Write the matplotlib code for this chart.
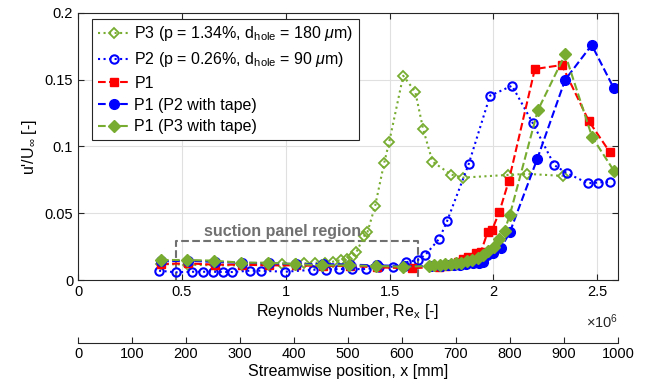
import matplotlib.pyplot as plt

plt.rcParams['font.family'] = ['Liberation Sans', 'DejaVu Sans']
plt.rcParams['mathtext.fontset'] = 'custom'
plt.rcParams['mathtext.rm'] = 'Liberation Sans'
plt.rcParams['mathtext.it'] = 'Liberation Sans:italic'

green = '#77AC30'

# P3 (open diamonds, dotted)
re_p3 = [0.40, 0.53, 0.66, 0.79, 0.92, 0.98, 1.05, 1.09, 1.14, 1.19, 1.226, 1.266, 1.295,
         1.319, 1.341, 1.378, 1.394, 1.431, 1.474, 1.499, 1.566, 1.624, 1.662, 1.707,
         1.796, 1.853, 2.069, 2.161, 2.335]
u_p3 = [0.012, 0.0115, 0.011, 0.011, 0.0115, 0.012, 0.012, 0.0125, 0.013, 0.013, 0.0137,
        0.015, 0.016, 0.0175, 0.021, 0.033, 0.036, 0.0557, 0.0875, 0.1037, 0.153, 0.141,
        0.113, 0.0887, 0.079, 0.0767, 0.0787, 0.0795, 0.078]

# P2 (open circles, dotted)
re_p2 = [0.39, 0.471, 0.551, 0.602, 0.65, 0.698, 0.743, 0.827, 0.88, 0.995, 1.132, 1.193,
         1.255, 1.319, 1.386, 1.45, 1.515, 1.579, 1.636, 1.672, 1.74, 1.777, 1.881, 1.984,
         2.09, 2.19, 2.294, 2.355, 2.455, 2.503, 2.563]
u_p2 = [0.007, 0.0058, 0.0062, 0.0062, 0.0062, 0.006, 0.006, 0.007, 0.007, 0.0062, 0.0077,
        0.0078, 0.0082, 0.0082, 0.0082, 0.0095, 0.010, 0.0133, 0.015, 0.0187, 0.031, 0.044,
        0.0867, 0.138, 0.1455, 0.1175, 0.086, 0.080, 0.0725, 0.073, 0.0737]

# P1 (filled squares, dashed)
re_p1 = [0.40, 0.53, 0.66, 0.79, 0.92, 1.05, 1.18, 1.31, 1.44, 1.61, 1.74, 1.77, 1.80,
         1.83, 1.853, 1.88, 1.917, 1.94, 1.973, 1.994, 2.029, 2.074, 2.20, 2.33, 2.46, 2.56]
u_p1 = [0.012, 0.0125, 0.0115, 0.0115, 0.011, 0.011, 0.0105, 0.0105, 0.0095, 0.0088, 0.010,
        0.0105, 0.011, 0.0135, 0.016, 0.0175, 0.020, 0.021, 0.036, 0.0375, 0.051, 0.074,
        0.158, 0.161, 0.119, 0.096]

# P1 (P2 with tape) (filled circles, dashed)
re_p1p2 = [0.40, 0.53, 0.66, 0.79, 0.92, 1.05, 1.18, 1.31, 1.44, 1.57, 1.70, 1.75, 1.78,
           1.81, 1.84, 1.87, 1.90, 1.93, 1.95, 1.97, 2.00, 2.037, 2.08, 2.211, 2.346,
           2.474, 2.579]
u_p1p2 = [0.014, 0.0145, 0.0135, 0.013, 0.0125, 0.012, 0.012, 0.0115, 0.011, 0.0105,
          0.0105, 0.0105, 0.011, 0.011, 0.0115, 0.012, 0.0125, 0.013, 0.0137, 0.0187,
          0.020, 0.024, 0.036, 0.0905, 0.150, 0.176, 0.144]

# P1 (P3 with tape) (filled diamonds, dashed)
re_p1p3 = [0.399, 0.527, 0.655, 0.783, 0.915, 1.045, 1.177, 1.306, 1.437, 1.566, 1.69,
           1.716, 1.742, 1.768, 1.794, 1.82, 1.846, 1.872, 1.898, 1.924, 1.95, 1.976,
           2.002, 2.028, 2.054, 2.08, 2.214, 2.346, 2.476, 2.58]
u_p1p3 = [0.015, 0.015, 0.0145, 0.013, 0.013, 0.012, 0.011, 0.011, 0.0105, 0.010, 0.0105,
          0.011, 0.0115, 0.012, 0.012, 0.0125, 0.013, 0.014, 0.015, 0.0165, 0.019, 0.0215,
          0.025, 0.031, 0.037, 0.049, 0.127, 0.169, 0.107, 0.082]

# suction panel region (Re x 1e6, u)
panel_re = [0.471, 1.638]
panel_top = 0.0295

mm_ticks = list(range(0, 1001, 100))
re_per_mm = 2600.0

fig = plt.figure(figsize=(6.45, 3.81), dpi=100)
ax = fig.add_axes([0.121, 0.265, 0.837, 0.701])

ax.plot([r * 1e6 for r in re_p3], u_p3, ':', color=green, lw=1.5, marker='D', ms=5,
        mfc='none', mec=green, mew=1.3,
        label=r'P3 (p = 1.34%, d$_{\mathregular{hole}}$ = 180 $\mu$m)')
ax.plot([r * 1e6 for r in re_p2], u_p2, ':', color='b', lw=1.5, marker='o', ms=6,
        mfc='none', mec='b', mew=1.5,
        label=r'P2 (p = 0.26%, d$_{\mathregular{hole}}$ = 90 $\mu$m)')
ax.plot([r * 1e6 for r in re_p1], u_p1, '--', color='r', lw=1.5, marker='s', ms=6,
        mfc='r', mec='r', label='P1')
ax.plot([r * 1e6 for r in re_p1p2], u_p1p2, '--', color='b', lw=1.5, marker='o', ms=7,
        mfc='b', mec='b', label='P1 (P2 with tape)')
ax.plot([r * 1e6 for r in re_p1p3], u_p1p3, '--', color=green, lw=1.5, marker='D', ms=6.5,
        mfc=green, mec=green, label='P1 (P3 with tape)')

# suction panel box
bx = [panel_re[0] * 1e6, panel_re[0] * 1e6, panel_re[1] * 1e6, panel_re[1] * 1e6]
by = [0, panel_top, panel_top, 0]
ax.plot(bx, by, '--', color='#707070', lw=1.5, zorder=1)
ax.text(sum(panel_re) / 2 * 1e6 - 0.07e6, panel_top + 0.0015, 'suction panel region',
        ha='center', va='bottom', color='#707070', fontsize=11.5, fontweight='bold')

ax.set_xlim(0, 2.6e6)
ax.set_ylim(0, 0.2)
ax.set_xticks([0, 0.5e6, 1e6, 1.5e6, 2e6, 2.5e6])
ax.set_xticklabels(['0', '0.5', '1', '1.5', '2', '2.5'])
ax.set_yticks([0, 0.05, 0.1, 0.15, 0.2])
ax.set_yticklabels(['0', '0.05', '0.1', '0.15', '0.2'])
ax.tick_params(direction='in', top=True, right=True, labelsize=10.5, length=4, color='#262626')
ax.grid(True, color='#e0e0e0', lw=0.8)
ax.set_axisbelow(True)
for s in ax.spines.values():
    s.set_color('#262626')
ax.set_xlabel(r'Reynolds Number, Re$_{\mathregular{x}}$ [-]', fontsize=11.5, labelpad=2)
ax.set_ylabel(r"u'/U$_\infty$ [-]", fontsize=11.5, labelpad=4)
ax.text(1.0, -0.155, r'$\times$10$^6$', transform=ax.transAxes, ha='right', va='center',
        fontsize=10.5, color='#262626')

leg = ax.legend(loc='upper left', fontsize=11.5, handlelength=2.0, borderpad=0.35,
                labelspacing=0.42, handletextpad=0.3, fancybox=False, framealpha=1,
                bbox_to_anchor=(0.02, 0.99), borderaxespad=0.2)
leg.get_frame().set_edgecolor('#262626')
leg.get_frame().set_linewidth(0.8)

# streamwise position axis
sec = ax.secondary_xaxis(-0.236, functions=(lambda r: r / re_per_mm, lambda x: x * re_per_mm))
sec.set_xticks(mm_ticks)
sec.set_xticklabels([str(m) for m in mm_ticks])
sec.tick_params(direction='in', labelsize=10.5, length=4, color='#262626', pad=3)
sec.spines['bottom'].set_color('#262626')
sec.set_xlabel('Streamwise position, x [mm]', fontsize=11.5, labelpad=2)

fig.savefig('out.png', dpi=100)
